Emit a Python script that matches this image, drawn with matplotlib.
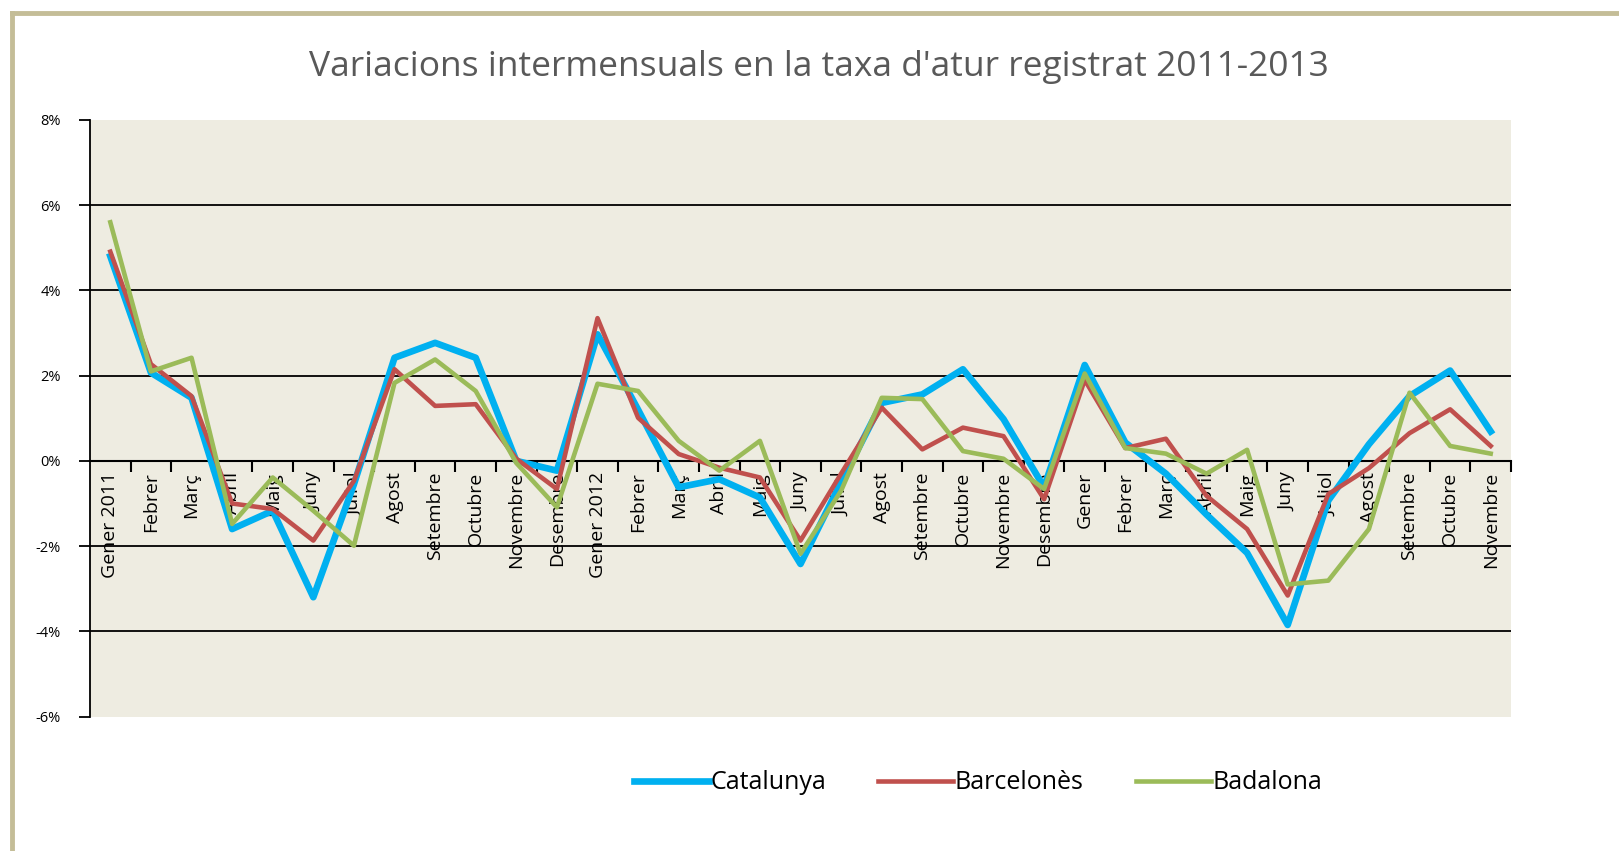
import matplotlib
matplotlib.use("Agg")
import matplotlib.pyplot as plt
from matplotlib.lines import Line2D

plt.rcParams['font.family'] = ['Open Sans', 'DejaVu Sans']

# %% data
mesos = ['Gener 2011', 'Febrer', 'Març', 'Abril', 'Maig', 'Juny', 'Juliol', 'Agost',
         'Setembre', 'Octubre', 'Novembre', 'Desembre',
         'Gener 2012', 'Febrer', 'Març', 'Abril', 'Maig', 'Juny', 'Juliol', 'Agost',
         'Setembre', 'Octubre', 'Novembre', 'Desembre',
         'Gener', 'Febrer', 'Març', 'Abril', 'Maig', 'Juny', 'Juliol', 'Agost',
         'Setembre', 'Octubre', 'Novembre']

catalunya = [4.8, 2.07, 1.48, -1.6, -1.17, -3.2, -0.55, 2.42, 2.77, 2.42, 0.0, -0.23,
             2.97, 1.2, -0.62, -0.43, -0.86, -2.42, -0.5, 1.36, 1.56, 2.15, 0.98, -0.62,
             2.25, 0.43, -0.3, -1.26, -2.16, -3.85, -0.93, 0.39, 1.52, 2.12, 0.69]
barcelones = [4.91, 2.27, 1.52, -1.0, -1.13, -1.87, -0.47, 2.15, 1.29, 1.33, 0.05, -0.66,
              3.35, 1.01, 0.16, -0.16, -0.39, -1.87, -0.3, 1.25, 0.27, 0.78, 0.58, -0.9,
              1.9, 0.3, 0.52, -0.82, -1.6, -3.16, -0.78, -0.17, 0.65, 1.21, 0.35]
badalona = [5.6, 2.1, 2.42, -1.48, -0.39, -1.17, -1.99, 1.83, 2.38, 1.64, -0.05, -1.09,
            1.81, 1.64, 0.47, -0.23, 0.47, -2.18, -0.7, 1.48, 1.45, 0.23, 0.05, -0.66,
            2.05, 0.3, 0.17, -0.3, 0.26, -2.9, -2.81, -1.6, 1.6, 0.35, 0.17]

yticks = [-6, -4, -2, 0, 2, 4, 6, 8]

# %% plot
fig = plt.figure(figsize=(16.19, 8.51), dpi=100)
ax = fig.add_axes([0.0556, 0.158, 0.8777, 0.701])
ax.set_facecolor('#EEECE1')

x = list(range(len(mesos)))
ax.plot(x, catalunya, color='#00B0F0', lw=4.8, label='Catalunya', solid_joinstyle='round', zorder=3)
ax.plot(x, barcelones, color='#C0504D', lw=3.3, label='Barcelonès', solid_joinstyle='round', zorder=4)
ax.plot(x, badalona, color='#9BBB59', lw=3.3, label='Badalona', solid_joinstyle='round', zorder=5)

ax.set_xlim(-0.5, len(mesos) - 0.5)
ax.set_ylim(yticks[0], yticks[-1])
for v in yticks[1:-1]:
    if v != 0:
        ax.axhline(v, color='black', lw=1.3, zorder=1)

ax.set_yticks(yticks)
ax.set_yticklabels([f'{v}%' for v in yticks], fontsize=10.5)
ax.tick_params(axis='y', length=8, width=1.3, pad=13)

ax.spines['top'].set_visible(False)
ax.spines['right'].set_visible(False)
ax.spines['left'].set_linewidth(1.3)
ax.spines['bottom'].set_position(('data', 0))
ax.spines['bottom'].set_linewidth(1.5)
ax.spines['bottom'].set_zorder(2)

ax.set_xticks(x)
ax.set_xticklabels(mesos, rotation=90, fontsize=14, va='top')
ax.tick_params(axis='x', which='major', length=0, pad=8)
ax.set_xticks([i + 0.5 for i in x[:-1]] + [len(mesos) - 0.5], minor=True)
ax.tick_params(axis='x', which='minor', length=8, width=1.5, direction='out')

fig.text(0.506, 0.921, "Variacions intermensuals en la taxa d'atur registrat 2011-2013",
         ha='center', va='center', fontsize=25.5, color='#595959')

ax.legend(loc='center', bbox_to_anchor=(0.604, 0.08), bbox_transform=fig.transFigure,
          ncol=3, frameon=False, fontsize=18, handlelength=3.0, handletextpad=0.05,
          columnspacing=2.1)

# outer frame
fig.add_artist(Line2D([0.0074, 0.0074], [0.0, 0.985], transform=fig.transFigure,
                      color='#C4BD97', lw=3.5))
fig.add_artist(Line2D([0.0074, 1.0], [0.985, 0.985], transform=fig.transFigure,
                      color='#C4BD97', lw=3.5))

fig.savefig('out.png', dpi=100)
